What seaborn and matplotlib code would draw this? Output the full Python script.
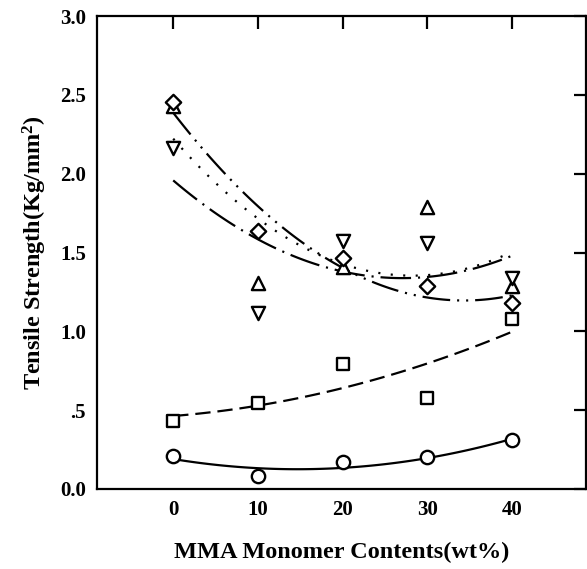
import numpy as np
import pandas as pd
import matplotlib
matplotlib.use("Agg")
import matplotlib.pyplot as plt
import seaborn as sns

# ---- data ----
mma = [0, 10, 20, 30, 40]
circle_vals = [0.21, 0.08, 0.17, 0.20, 0.31]
square_vals = [0.43, 0.545, 0.79, 0.58, 1.08]
diamond_vals = [2.455, 1.636, 1.465, 1.29, 1.18]
up_tri_vals = [2.43, 1.305, 1.41, 1.79, 1.29]
down_tri_vals = [2.16, 1.115, 1.57, 1.56, 1.34]

x_ticks = [0, 10, 20, 30, 40]
y_ticks = [0.0, 0.5, 1.0, 1.5, 2.0, 2.5, 3.0]
y_tick_labels = ['0.0', '.5', '1.0', '1.5', '2.0', '2.5', '3.0']

x_label = "MMA Monomer Contents(wt%)"
y_label = "Tensile Strength(Kg/mm$^{2}$)"

sns.set_theme(style="white")
plt.rcParams['font.family'] = ['Liberation Serif', 'DejaVu Serif']
plt.rcParams['font.weight'] = 'bold'
plt.rcParams['mathtext.fontset'] = 'custom'
plt.rcParams['mathtext.rm'] = 'Liberation Serif:bold'
plt.rcParams['mathtext.it'] = 'Liberation Serif:bold'
plt.rcParams['mathtext.bf'] = 'Liberation Serif:bold'
plt.rcParams['mathtext.default'] = 'rm'
plt.rcParams['lines.scale_dashes'] = False

fig = plt.figure(figsize=(5.87, 5.69), dpi=100)
ax = fig.add_axes([97 / 587, 80 / 569, 489 / 587, 473 / 569])

# (values, marker, marker size, fit line style)
series = [
    (circle_vals, 'o', 9.6, '-'),
    (square_vals, 's', 8.4, (0, (11, 5))),
    (up_tri_vals, '^', 9.5, (0, (1.5, 7.5))),
    (down_tri_vals, 'v', 9.5, (0, (22, 5, 1.5, 5))),
    (diamond_vals, 'D', 7.8, (0, (20, 5, 1.5, 5, 1.5, 5))),
]

for vals, marker, ms, ls in series:
    df = pd.DataFrame({"x": mma, "y": vals})
    sns.regplot(data=df, x="x", y="y", order=2, ci=None, scatter=False, ax=ax,
                line_kws=dict(color="black", lw=1.6, linestyle=ls, zorder=2))

for vals, marker, ms, ls in series:
    df = pd.DataFrame({"x": mma, "y": vals})
    sns.scatterplot(data=df, x="x", y="y", marker=marker, s=ms ** 2, ax=ax,
                    facecolor="white", edgecolor="black", linewidth=1.7,
                    zorder=3)

ax.set_xlim(-9, 48.75)
ax.set_ylim(0, 3.0)
ax.set_xticks(x_ticks)
ax.set_xticklabels([str(t) for t in x_ticks])
ax.set_yticks(y_ticks)
ax.set_yticklabels(y_tick_labels)

for s in ax.spines.values():
    s.set_visible(True)
    s.set_color("black")
    s.set_linewidth(1.6)

ax.tick_params(axis='both', which='major', direction='in', length=9, width=1.6,
               color='black', top=True, right=True, labelsize=15, pad=8)
for lab in ax.get_xticklabels() + ax.get_yticklabels():
    lab.set_fontweight('bold')
    lab.set_color('black')

ax.set_xlabel(x_label, fontsize=17.5, fontweight='bold', color='black', labelpad=16)
ax.set_ylabel(y_label, fontsize=17.5, fontweight='bold', color='black', labelpad=8)

fig.savefig("out.png", dpi=100, facecolor="white")
